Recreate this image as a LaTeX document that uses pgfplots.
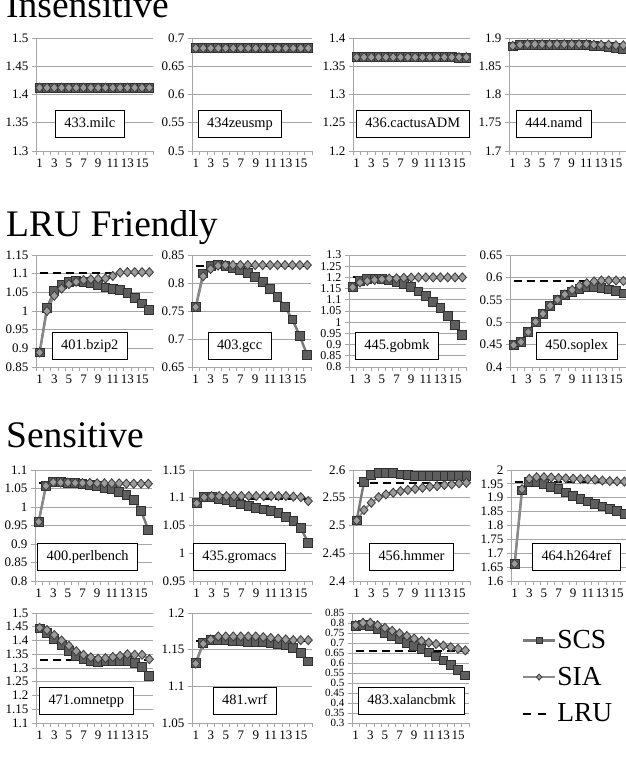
\documentclass[border=0pt]{standalone}
\usepackage{fontspec}
\setmainfont{Liberation Serif}
\usepackage{pgfplots}
\usepackage{pgfplotstable}
\pgfplotsset{compat=1.18}

\definecolor{gridc}{HTML}{A6A6A6}
\definecolor{scsl}{HTML}{7A7A7A}
\definecolor{scsf}{HTML}{5E5E5E}
\definecolor{scsd}{HTML}{303030}
\definecolor{sial}{HTML}{8A8A8A}
\definecolor{siaf}{HTML}{9C9C9C}
\definecolor{siad}{HTML}{404040}

\pgfplotsset{
  every tick label/.append style={font=\fontsize{13}{13}\selectfont},
  panel/.style={scale only axis, anchor=south west, xmin=0.5, xmax=16.5, clip=false,
    axis x line*=bottom, axis y line*=left,
    axis line style={gridc, line width=0.8pt},
    ymajorgrids, grid style={gridc, line width=0.8pt},
    xtick={1,3,5,7,9,11,13,15}, minor xtick={0.5,1.5,...,16.5},
    tick align=outside, major tick length=4pt, minor tick length=4pt,
    tick style={gridc, line width=0.8pt},
    major x tick style={draw=none},
    tick label style={font=\fontsize{13}{13}\selectfont},
    yticklabel style={inner ysep=0pt},
    xticklabel style={inner xsep=0pt},
    /pgf/number format/fixed, /pgf/number format/precision=2,
    /pgf/number format/assume math mode=true},
  scs/.style={scsl, line width=2.4pt, mark=square*, mark size=4.4pt,
    mark options={fill=scsf, draw=scsd, line width=0.9pt, solid},
    legend image code/.code={\draw[mark repeat=2, mark phase=2, ##1, mark size=3pt] plot coordinates {(0pt,0pt) (16pt,0pt) (32pt,0pt)};}},
  sia/.style={sial, line width=2pt, mark=diamond*, mark size=4.5pt,
    mark options={fill=siaf, draw=siad, line width=0.9pt, solid, xscale=1.2},
    legend image code/.code={\draw[mark repeat=2, mark phase=2, ##1, mark size=3pt] plot coordinates {(0pt,0pt) (16pt,0pt) (32pt,0pt)};}},
  lru/.style={black, line width=2pt, dash pattern=on 8pt off 5pt, no marks,
    legend image code/.code={\draw[##1, dash pattern=on 8pt off 7pt] (0pt,0pt) -- (24pt,0pt);}}
}
\tikzset{
  lbl/.style={draw=black, line width=0.8pt, fill=white, font=\fontsize{14.4}{15}\selectfont,
    inner xsep=9pt, inner ysep=0pt, text height=10.5pt, text depth=3pt, minimum height=27pt},
  ttl/.style={anchor=base west, inner sep=0pt, font=\fontsize{37.5}{40}\selectfont}
}

\newcommand{\trio}[1]{%
  \addplot[scs] table[x=x,y=s]{#1};
  \addplot[sia] table[x=x,y=a]{#1};
  \addplot[lru] table[x=x,y=l]{#1};}

\pgfplotstableread{
x s a l
1 1.412 1.412 1.412
2 1.412 1.412 1.412
3 1.412 1.412 1.412
4 1.412 1.412 1.412
5 1.412 1.412 1.412
6 1.412 1.412 1.412
7 1.412 1.412 1.412
8 1.412 1.412 1.412
9 1.412 1.412 1.412
10 1.412 1.412 1.412
11 1.412 1.412 1.412
12 1.412 1.412 1.412
13 1.412 1.412 1.412
14 1.412 1.412 1.412
15 1.412 1.412 1.412
16 1.412 1.412 1.412
}\tmilc

\pgfplotstableread{
x s a l
1 0.682 0.682 0.682
2 0.682 0.682 0.682
3 0.682 0.682 0.682
4 0.682 0.682 0.682
5 0.682 0.682 0.682
6 0.682 0.682 0.682
7 0.682 0.682 0.682
8 0.682 0.682 0.682
9 0.682 0.682 0.682
10 0.682 0.682 0.682
11 0.682 0.682 0.682
12 0.682 0.682 0.682
13 0.682 0.682 0.682
14 0.682 0.682 0.682
15 0.682 0.682 0.682
16 0.682 0.682 0.682
}\tzeus

\pgfplotstableread{
x s a l
1 1.366 1.366 1.366
2 1.366 1.366 1.366
3 1.366 1.366 1.366
4 1.366 1.366 1.366
5 1.366 1.366 1.366
6 1.366 1.366 1.366
7 1.366 1.366 1.366
8 1.366 1.366 1.366
9 1.366 1.366 1.366
10 1.366 1.366 1.366
11 1.366 1.366 1.366
12 1.366 1.366 1.366
13 1.366 1.366 1.366
14 1.366 1.366 1.366
15 1.365 1.366 1.366
16 1.364 1.366 1.366
}\tcactus

\pgfplotstableread{
x s a l
1 1.885 1.886 1.888
2 1.887 1.888 1.888
3 1.888 1.889 1.888
4 1.888 1.889 1.888
5 1.888 1.889 1.888
6 1.888 1.889 1.888
7 1.888 1.889 1.888
8 1.888 1.889 1.888
9 1.888 1.889 1.888
10 1.887 1.889 1.888
11 1.887 1.889 1.888
12 1.886 1.888 1.888
13 1.885 1.888 1.888
14 1.884 1.888 1.888
15 1.882 1.887 1.888
16 1.881 1.887 1.888
}\tnamd

\pgfplotstableread{
x s a l
1 0.889 0.889 1.102
2 1.009 1.000 1.102
3 1.054 1.041 1.102
4 1.071 1.060 1.102
5 1.078 1.072 1.102
6 1.080 1.078 1.102
7 1.078 1.083 1.102
8 1.074 1.085 1.102
9 1.069 1.086 1.102
10 1.063 1.087 1.102
11 1.058 1.094 1.102
12 1.056 1.103 1.102
13 1.049 1.104 1.102
14 1.036 1.104 1.102
15 1.020 1.104 1.102
16 1.002 1.104 1.102
}\tbzip

\pgfplotstableread{
x s a l
1 0.757 0.757 0.831
2 0.817 0.812 0.831
3 0.830 0.825 0.831
4 0.833 0.831 0.831
5 0.831 0.832 0.831
6 0.827 0.832 0.831
7 0.823 0.832 0.831
8 0.818 0.832 0.831
9 0.811 0.832 0.831
10 0.802 0.832 0.831
11 0.790 0.832 0.831
12 0.775 0.832 0.831
13 0.757 0.832 0.831
14 0.735 0.832 0.831
15 0.705 0.832 0.831
16 0.671 0.832 0.831
}\tgcc

\pgfplotstableread{
x s a l
1 1.159 1.156 1.200
2 1.184 1.177 1.200
3 1.192 1.184 1.200
4 1.195 1.189 1.200
5 1.193 1.192 1.200
6 1.186 1.195 1.200
7 1.177 1.196 1.200
8 1.169 1.198 1.200
9 1.156 1.199 1.200
10 1.137 1.200 1.200
11 1.117 1.200 1.200
12 1.092 1.200 1.200
13 1.063 1.200 1.200
14 1.028 1.200 1.200
15 0.988 1.200 1.200
16 0.944 1.200 1.200
}\tgobmk

\pgfplotstableread{
x s a l
1 0.449 0.449 0.592
2 0.456 0.456 0.592
3 0.478 0.478 0.592
4 0.501 0.501 0.592
5 0.519 0.519 0.592
6 0.536 0.537 0.592
7 0.549 0.550 0.592
8 0.560 0.562 0.592
9 0.568 0.572 0.592
10 0.575 0.581 0.592
11 0.578 0.587 0.592
12 0.578 0.591 0.592
13 0.576 0.593 0.592
14 0.573 0.593 0.592
15 0.569 0.593 0.592
16 0.564 0.592 0.592
}\tsoplex

\pgfplotstableread{
x s a l
1 0.960 0.960 1.064
2 1.057 1.057 1.064
3 1.067 1.067 1.064
4 1.067 1.066 1.064
5 1.066 1.066 1.064
6 1.065 1.065 1.064
7 1.062 1.065 1.064
8 1.059 1.065 1.064
9 1.057 1.064 1.064
10 1.052 1.064 1.064
11 1.048 1.064 1.064
12 1.041 1.064 1.064
13 1.032 1.063 1.064
14 1.019 1.063 1.064
15 0.990 1.063 1.064
16 0.938 1.063 1.064
}\tperl

\pgfplotstableread{
x s a l
1 1.091 1.090 1.098
2 1.102 1.101 1.098
3 1.101 1.103 1.098
4 1.098 1.103 1.098
5 1.095 1.103 1.098
6 1.092 1.103 1.098
7 1.088 1.103 1.098
8 1.085 1.103 1.098
9 1.082 1.103 1.098
10 1.079 1.103 1.098
11 1.076 1.103 1.098
12 1.072 1.103 1.098
13 1.066 1.103 1.098
14 1.058 1.102 1.098
15 1.045 1.101 1.098
16 1.019 1.094 1.098
}\tgrom

\pgfplotstableread{
x s a l
1 2.509 2.509 2.576
2 2.578 2.528 2.576
3 2.591 2.541 2.576
4 2.595 2.551 2.576
5 2.595 2.556 2.576
6 2.594 2.559 2.576
7 2.592 2.562 2.576
8 2.591 2.564 2.576
9 2.589 2.566 2.576
10 2.589 2.568 2.576
11 2.589 2.570 2.576
12 2.589 2.571 2.576
13 2.589 2.573 2.576
14 2.589 2.574 2.576
15 2.589 2.576 2.576
16 2.589 2.577 2.576
}\thmmer

\pgfplotstableread{
x s a l
1 1.662 1.662 1.957
2 1.926 1.931 1.957
3 1.958 1.968 1.957
4 1.955 1.974 1.957
5 1.949 1.974 1.957
6 1.940 1.973 1.957
7 1.931 1.971 1.957
8 1.919 1.970 1.957
9 1.907 1.969 1.957
10 1.896 1.968 1.957
11 1.887 1.967 1.957
12 1.877 1.965 1.957
13 1.869 1.962 1.957
14 1.860 1.960 1.957
15 1.851 1.959 1.957
16 1.842 1.958 1.957
}\thref

\pgfplotstableread{
x s a l
1 1.444 1.446 1.330
2 1.428 1.438 1.330
3 1.405 1.420 1.330
4 1.384 1.400 1.330
5 1.363 1.381 1.330
6 1.344 1.361 1.330
7 1.332 1.348 1.330
8 1.326 1.339 1.330
9 1.323 1.334 1.330
10 1.324 1.336 1.330
11 1.324 1.340 1.330
12 1.326 1.344 1.330
13 1.326 1.350 1.330
14 1.318 1.348 1.330
15 1.304 1.348 1.330
16 1.272 1.332 1.330
}\tomnet

\pgfplotstableread{
x s a l
1 1.132 1.131 1.162
2 1.159 1.158 1.162
3 1.163 1.164 1.162
4 1.163 1.168 1.162
5 1.163 1.168 1.162
6 1.162 1.168 1.162
7 1.162 1.168 1.162
8 1.161 1.168 1.162
9 1.160 1.168 1.162
10 1.160 1.167 1.162
11 1.159 1.166 1.162
12 1.157 1.165 1.162
13 1.156 1.164 1.162
14 1.152 1.163 1.162
15 1.145 1.163 1.162
16 1.134 1.163 1.162
}\twrf

\pgfplotstableread{
x s a l
1 0.784 0.789 0.661
2 0.792 0.801 0.661
3 0.784 0.801 0.661
4 0.768 0.789 0.661
5 0.751 0.776 0.661
6 0.735 0.761 0.661
7 0.718 0.748 0.661
8 0.702 0.735 0.661
9 0.686 0.722 0.661
10 0.669 0.710 0.661
11 0.653 0.702 0.661
12 0.633 0.695 0.661
13 0.613 0.687 0.661
14 0.592 0.679 0.661
15 0.567 0.671 0.661
16 0.538 0.663 0.661
}\txalan

\begin{document}
\begin{tikzpicture}
\useasboundingbox[fill=white] (0pt,0pt) rectangle (625pt,757pt);

\node[ttl] at (6pt,739pt) {Insensitive};
\node[ttl] at (6pt,520pt) {LRU Friendly};
\node[ttl] at (6pt,309pt) {Sensitive};

% Row 1
\begin{axis}[panel, at={(36pt,606pt)}, width=117pt, height=113pt,
  ymin=1.3, ymax=1.5, ytick={1.3,1.35,1.4,1.45,1.5}]
\trio{\tmilc}
\node[lbl] at (rel axis cs:0.46,0.24) {433.milc};
\end{axis}
\begin{axis}[panel, at={(192pt,606pt)}, width=120pt, height=113pt,
  ymin=0.5, ymax=0.7, ytick={0.5,0.55,0.6,0.65,0.7}]
\trio{\tzeus}
\node[lbl] at (rel axis cs:0.40,0.24) {434zeusmp};
\end{axis}
\begin{axis}[panel, at={(353pt,606pt)}, width=117pt, height=113pt,
  ymin=1.2, ymax=1.4, ytick={1.2,1.25,1.3,1.35,1.4}]
\trio{\tcactus}
\node[lbl] at (rel axis cs:0.51,0.24) {436.cactusADM};
\end{axis}
\begin{axis}[panel, at={(509pt,606pt)}, width=118pt, height=113pt,
  ymin=1.7, ymax=1.9, ytick={1.7,1.75,1.8,1.85,1.9}]
\trio{\tnamd}
\node[lbl] at (rel axis cs:0.38,0.24) {444.namd};
\end{axis}

% Row 2
\begin{axis}[panel, at={(36pt,390pt)}, width=117pt, height=112pt,
  ymin=0.85, ymax=1.15, ytick={0.85,0.9,0.95,1,1.05,1.1,1.15}]
\trio{\tbzip}
\node[lbl] at (rel axis cs:0.46,0.19) {401.bzip2};
\end{axis}
\begin{axis}[panel, at={(192pt,390pt)}, width=119pt, height=112pt,
  ymin=0.65, ymax=0.85, ytick={0.65,0.7,0.75,0.8,0.85}]
\trio{\tgcc}
\node[lbl] at (rel axis cs:0.40,0.19) {403.gcc};
\end{axis}
\begin{axis}[panel, at={(349pt,390pt)}, width=117pt, height=112pt,
  ymin=0.8, ymax=1.3, ytick={0.8,0.85,0.9,0.95,1,1.05,1.1,1.15,1.2,1.25,1.3},
  yticklabel style={font=\fontsize{12}{12}\selectfont}]
\trio{\tgobmk}
\node[lbl] at (rel axis cs:0.41,0.19) {445.gobmk};
\end{axis}
\begin{axis}[panel, at={(510pt,390pt)}, width=117pt, height=112pt,
  ymin=0.4, ymax=0.65, ytick={0.4,0.45,0.5,0.55,0.6,0.65}]
\trio{\tsoplex}
\node[lbl] at (rel axis cs:0.57,0.19) {450.soplex};
\end{axis}

% Row 3
\begin{axis}[panel, at={(35pt,176pt)}, width=117pt, height=111pt,
  ymin=0.8, ymax=1.1, ytick={0.8,0.85,0.9,0.95,1,1.05,1.1}]
\trio{\tperl}
\node[lbl] at (rel axis cs:0.45,0.22) {400.perlbench};
\end{axis}
\begin{axis}[panel, at={(193pt,176pt)}, width=119pt, height=111pt,
  ymin=0.95, ymax=1.15, ytick={0.95,1,1.05,1.1,1.15}]
\trio{\tgrom}
\node[lbl] at (rel axis cs:0.39,0.22) {435.gromacs};
\end{axis}
\begin{axis}[panel, at={(353pt,176pt)}, width=117pt, height=111pt,
  ymin=2.4, ymax=2.6, ytick={2.4,2.45,2.5,2.55,2.6}]
\trio{\thmmer}
\node[lbl] at (rel axis cs:0.50,0.22) {456.hmmer};
\end{axis}
\begin{axis}[panel, at={(511pt,176pt)}, width=117pt, height=111pt,
  ymin=1.6, ymax=2, ytick={1.6,1.65,1.7,1.75,1.8,1.85,1.9,1.95,2}]
\trio{\thref}
\node[lbl] at (rel axis cs:0.56,0.22) {464.h264ref};
\end{axis}

% Row 4
\begin{axis}[panel, at={(36pt,34pt)}, width=117pt, height=110pt,
  ymin=1.1, ymax=1.5, ytick={1.1,1.15,1.2,1.25,1.3,1.35,1.4,1.45,1.5}]
\trio{\tomnet}
\node[lbl] at (rel axis cs:0.43,0.20) {471.omnetpp};
\end{axis}
\begin{axis}[panel, at={(192pt,34pt)}, width=120pt, height=110pt,
  ymin=1.05, ymax=1.2, ytick={1.05,1.1,1.15,1.2}]
\trio{\twrf}
\node[lbl] at (rel axis cs:0.44,0.20) {481.wrf};
\end{axis}
\begin{axis}[panel, at={(352pt,34pt)}, width=117pt, height=110pt,
  ymin=0.3, ymax=0.85, ytick={0.3,0.35,0.4,0.45,0.5,0.55,0.6,0.65,0.7,0.75,0.8,0.85},
  yticklabel style={font=\fontsize{11}{11}\selectfont},
  legend style={at={(1.425,0.87)}, anchor=north west, draw=none, fill=none,
    font=\fontsize{27.5}{27.5}\selectfont, nodes={inner sep=1pt}, row sep=15pt,
    /tikz/every odd column/.append style={column sep=0pt}},
  legend cell align=left]
\trio{\txalan}
\legend{SCS,SIA,LRU}
\node[lbl] at (rel axis cs:0.51,0.20) {483.xalancbmk};
\end{axis}
\end{tikzpicture}
\end{document}
